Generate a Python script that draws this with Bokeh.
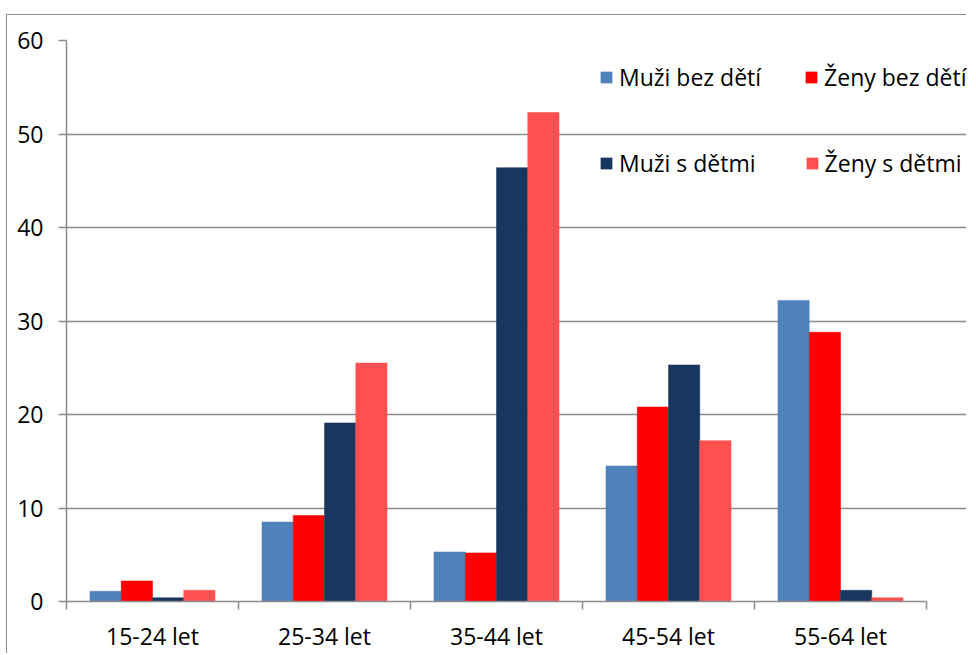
from bokeh.plotting import figure
from bokeh.models import Range1d, FixedTicker, Legend, LegendItem, ColumnDataSource
from bokeh.transform import dodge
from bokeh.embed import file_html
from bokeh.resources import INLINE

categories = ["15-24 let", "25-34 let", "35-44 let", "45-54 let", "55-64 let"]
muzi_bez_deti = [1.1, 8.5, 5.3, 14.5, 32.2]
zeny_bez_deti = [2.2, 9.2, 5.2, 20.8, 28.8]
muzi_s_detmi = [0.4, 19.1, 46.4, 25.3, 1.2]
zeny_s_detmi = [1.2, 25.5, 52.3, 17.2, 0.4]
series_names = ["Muži bez dětí", "Ženy bez dětí", "Muži s dětmi", "Ženy s dětmi"]
colors = ["#4F81BD", "#FF0000", "#17375E", "#FF5050"]
y_ticks = [0, 10, 20, 30, 40, 50, 60]

FONT = "Open Sans"
FS = "23px"
GRAY = "#8C8C8C"

n = len(categories)
centers = [i + 0.5 for i in range(n)]
src = ColumnDataSource(dict(x=centers, s0=muzi_bez_deti, s1=zeny_bez_deti,
                            s2=muzi_s_detmi, s3=zeny_s_detmi))

# frame: left 67 -> right 968; data 0..5 spans 67..927
x_end = n * (968 - 67) / 860.0
p = figure(width=960, height=639, output_backend="svg", toolbar_location=None,
           x_range=Range1d(0, x_end), y_range=Range1d(0, 60),
           min_border_left=59, min_border_right=0, min_border_top=25, min_border_bottom=53)
p.margin = (14, 0, 0, 6)
p.styles = {"border-left": "1.5px solid #8C8C8C", "border-top": "1.5px solid #8C8C8C"}
p.outline_line_color = None
p.background_fill_color = "white"
p.border_fill_color = "white"

bw = 1.0 / 5.5
offsets = [-1.5 * bw, -0.5 * bw, 0.5 * bw, 1.5 * bw]
renderers = []
for k in range(4):
    r = p.vbar(x=dodge("x", offsets[k], range=p.x_range), top="s%d" % k, width=bw,
               source=src, fill_color=colors[k], line_color=colors[k], line_width=0.5)
    renderers.append(r)

# x axis
xa = p.xaxis[0]
xa.bounds = (0, n)
xa.ticker = FixedTicker(ticks=centers, minor_ticks=list(range(n + 1)))
xa.major_label_overrides = {c: lab for c, lab in zip(centers, categories)}
xa.major_tick_out = 0
xa.major_tick_in = 0
xa.minor_tick_out = 8
xa.minor_tick_in = 0
xa.minor_tick_line_color = GRAY
xa.minor_tick_line_width = 1.5
xa.axis_line_color = GRAY
xa.axis_line_width = 1.5
xa.major_label_text_font = FONT
xa.major_label_text_font_size = FS
xa.major_label_text_color = "black"
xa.major_label_standoff = 10

ya = p.yaxis[0]
ya.ticker = FixedTicker(ticks=y_ticks, minor_ticks=[])
ya.major_tick_out = 8
ya.major_tick_in = 0
ya.major_tick_line_color = GRAY
ya.major_tick_line_width = 1.5
ya.axis_line_color = GRAY
ya.axis_line_width = 1.5
ya.major_label_text_font = FONT
ya.major_label_text_font_size = FS
ya.major_label_text_color = "black"
ya.major_label_standoff = 15

p.xgrid.grid_line_color = None
p.ygrid.ticker = FixedTicker(ticks=y_ticks)
p.ygrid.bounds = (0, n)
p.ygrid.grid_line_color = GRAY
p.ygrid.grid_line_width = 1.5

def make_legend(idx, loc, spacing):
    items = [LegendItem(label=series_names[i], renderers=[renderers[i]]) for i in idx]
    return Legend(items=items, orientation="horizontal", location=loc,
                  padding=0, margin=0, spacing=spacing, label_standoff=6,
                  glyph_width=14, glyph_height=14, label_height=14, label_width=20,
                  background_fill_alpha=0, border_line_color=None,
                  label_text_font=FONT, label_text_font_size=FS, label_text_color="black")

p.add_layout(make_legend([0, 1], (533, 508), 43))
p.add_layout(make_legend([2, 3], (533, 422), 49))

open("out.html", "w").write(file_html(p, INLINE))
